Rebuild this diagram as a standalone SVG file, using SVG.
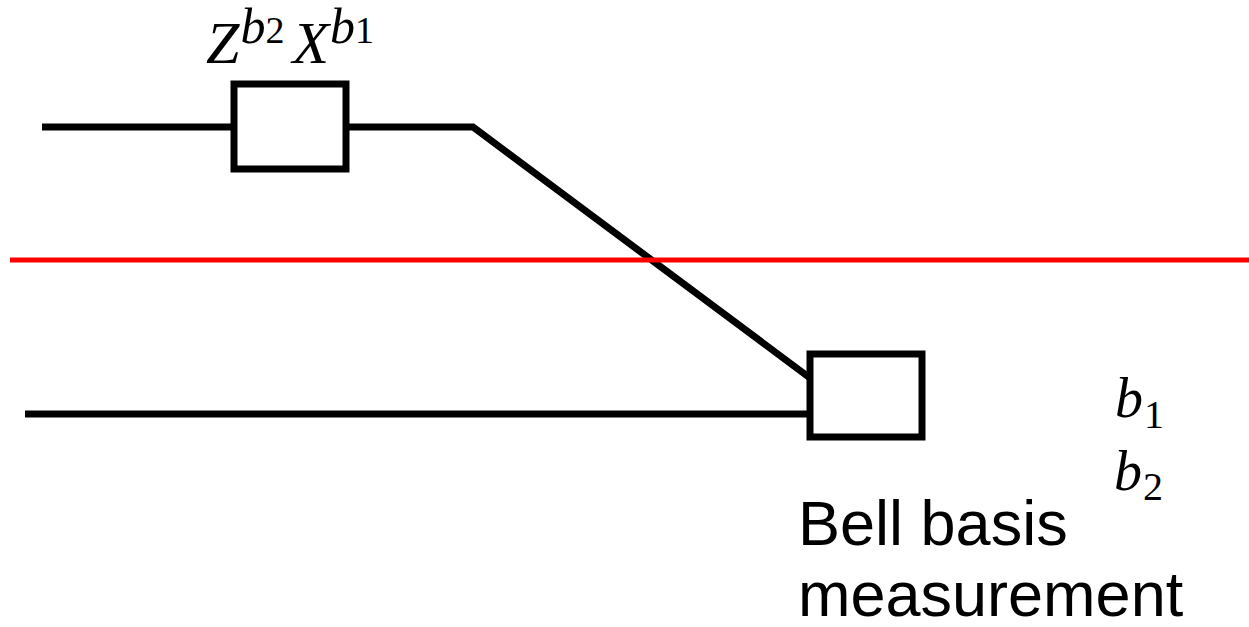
<svg xmlns="http://www.w3.org/2000/svg" width="1249" height="627" viewBox="0 0 1249 627">
<style>
.w{stroke:#000;stroke-width:7;fill:none}
.box{stroke:#000;stroke-width:7;fill:#fff}
.m{font-family:"Liberation Serif",serif;font-style:italic;fill:#000}
.n{font-family:"Liberation Serif",serif;fill:#000}
.t{font-family:"Liberation Sans",Arial,sans-serif;fill:#000}
</style>
<rect width="1249" height="627" fill="#fff"/>
<g id="connectors">
<line class="w" x1="42" y1="127" x2="234" y2="127"/>
<polyline class="w" points="346,127 473,127 810,378"/>
<line class="w" x1="25" y1="414" x2="810" y2="414"/>
<line x1="10" y1="260" x2="1249" y2="260" stroke="#f00" stroke-width="5"/>
</g>
<g id="gate">
<rect class="box" x="234" y="84" width="112" height="85"/>
<text x="206" y="63"><tspan class="m" font-size="60">Z</tspan><tspan class="m" font-size="50" dx="1" dy="-20">b</tspan><tspan class="n" font-size="38">2</tspan><tspan class="m" font-size="60" dx="8" dy="20">X</tspan><tspan class="m" font-size="50" dx="1" dy="-20">b</tspan><tspan class="n" font-size="38">1</tspan></text>
</g>
<g id="bell">
<rect class="box" x="810" y="354" width="112" height="83"/>
<text class="t" font-size="63" x="798" y="545">Bell basis</text>
<text class="t" font-size="63" x="798" y="616">measurement</text>
</g>
<g id="outputs">
<text x="1115" y="417"><tspan class="m" font-size="56">b</tspan><tspan class="n" font-size="40" dx="1" dy="11">1</tspan></text>
<text x="1114" y="490"><tspan class="m" font-size="56">b</tspan><tspan class="n" font-size="40" dx="1" dy="10">2</tspan></text>
</g>
</svg>
